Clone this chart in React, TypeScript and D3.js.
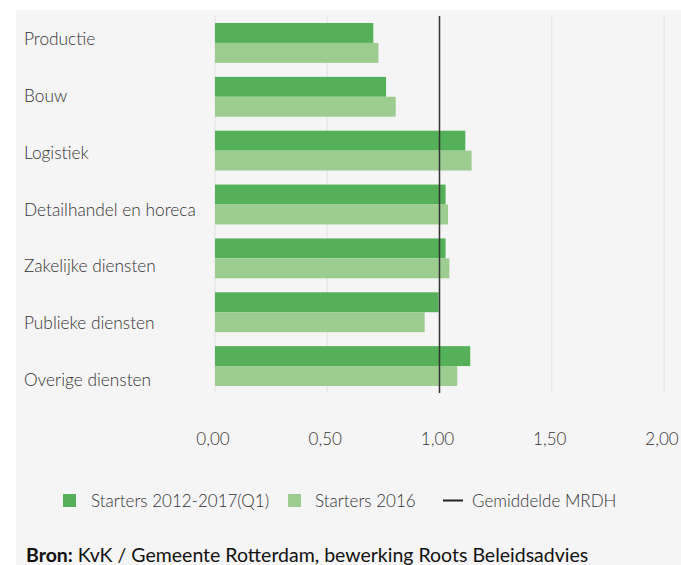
import React, { useRef, useEffect } from "react";
import * as d3 from "d3";

const categories = [
  "Productie",
  "Bouw",
  "Logistiek",
  "Detailhandel en horeca",
  "Zakelijke diensten",
  "Publieke diensten",
  "Overige diensten",
];
const starters2012_2017 = [0.705, 0.762, 1.115, 1.027, 1.027, 0.996, 1.137];
const starters2016 = [0.728, 0.805, 1.143, 1.038, 1.044, 0.934, 1.079];
const gemiddeldeMRDH = 1.0;
const ticks = [0, 0.5, 1, 1.5, 2];
const seriesNames = ["Starters 2012-2017(Q1)", "Starters 2016", "Gemiddelde MRDH"];

const DARK = "#55b05a";
const LIGHT = "#9dcc91";
const FONT = "Lato, 'Open Sans', sans-serif";

const App: React.FC = () => {
  const svgRef = useRef<SVGSVGElement | null>(null);

  useEffect(() => {
    const width = 681;
    const height = 565;
    const svg = d3.select(svgRef.current);
    svg.selectAll("*").remove();

    // grey panel
    svg.append("rect").attr("x", 16).attr("y", 10).attr("width", width - 16).attr("height", height - 10).attr("fill", "#f5f5f5");

    const x = d3.scaleLinear().domain([0, 2]).range([215, 664]);
    const y = d3.scaleBand<string>().domain(categories).range([16, 393]).paddingInner(0.26).paddingOuter(0.13);
    const labelY = d3.scalePoint<string>().domain(categories).range([39, 380]);

    // gridlines
    svg.append("g")
      .selectAll("line")
      .data(ticks)
      .join("line")
      .attr("x1", (d) => x(d))
      .attr("x2", (d) => x(d))
      .attr("y1", 16)
      .attr("y2", 393)
      .attr("stroke", "#e2e2e2")
      .attr("stroke-width", 1);

    // bars
    const half = y.bandwidth() / 2;
    const rows = svg.append("g")
      .selectAll("g")
      .data(categories)
      .join("g")
      .attr("transform", (d) => `translate(0,${y(d)})`);

    rows.append("rect")
      .attr("x", x(0))
      .attr("y", 0)
      .attr("height", half)
      .attr("width", (_d, i) => x(starters2012_2017[i]) - x(0))
      .attr("fill", DARK);

    rows.append("rect")
      .attr("x", x(0))
      .attr("y", half)
      .attr("height", half)
      .attr("width", (_d, i) => x(starters2016[i]) - x(0))
      .attr("fill", LIGHT);

    // average line
    svg.append("line")
      .attr("x1", x(gemiddeldeMRDH))
      .attr("x2", x(gemiddeldeMRDH))
      .attr("y1", 16)
      .attr("y2", 393)
      .attr("stroke", "#333")
      .attr("stroke-width", 1.5);

    // category labels
    svg.append("g")
      .selectAll("text")
      .data(categories)
      .join("text")
      .attr("x", 24)
      .attr("y", (d) => (labelY(d) ?? 0) + 6)
      .attr("font-family", FONT)
      .attr("font-weight", 300)
      .attr("font-size", 17.3)
      .attr("fill", "#333")
      .text((d) => d);

    // tick labels
    const fmt = (v: number) => v.toFixed(2).replace(".", ",");
    svg.append("g")
      .selectAll("text")
      .data(ticks)
      .join("text")
      .attr("x", (d) => x(d) - 2)
      .attr("y", 445)
      .attr("text-anchor", "middle")
      .attr("font-family", FONT)
      .attr("font-weight", 300)
      .attr("font-size", 17)
      .attr("fill", "#333")
      .text((d) => fmt(d));

    // legend
    const legend = svg.append("g").attr("font-family", FONT).attr("font-weight", 300).attr("font-size", 17).attr("fill", "#333");
    legend.append("rect").attr("x", 63).attr("y", 494).attr("width", 13).attr("height", 13).attr("fill", DARK);
    legend.append("text").attr("x", 91).attr("y", 507).text(seriesNames[0]);
    legend.append("rect").attr("x", 288).attr("y", 494).attr("width", 13).attr("height", 13).attr("fill", LIGHT);
    legend.append("text").attr("x", 315).attr("y", 507).text(seriesNames[1]);
    legend.append("line").attr("x1", 443).attr("x2", 463).attr("y1", 500.5).attr("y2", 500.5).attr("stroke", "#222").attr("stroke-width", 2);
    legend.append("text").attr("x", 472).attr("y", 507).text(seriesNames[2]);

    // source
    const src = svg.append("text").attr("x", 26).attr("y", 562).attr("font-family", FONT).attr("font-size", 19.5).attr("fill", "#111");
    src.append("tspan").attr("font-weight", 700).text("Bron:");
    src.append("tspan").attr("font-weight", 400).text(" KvK / Gemeente Rotterdam, bewerking Roots Beleidsadvies");
  }, []);

  return (
    <svg
      ref={svgRef}
      width={681}
      height={565}
      style={{ position: "absolute", left: 0, top: 0, background: "#fff" }}
    />
  );
};

export default App;
